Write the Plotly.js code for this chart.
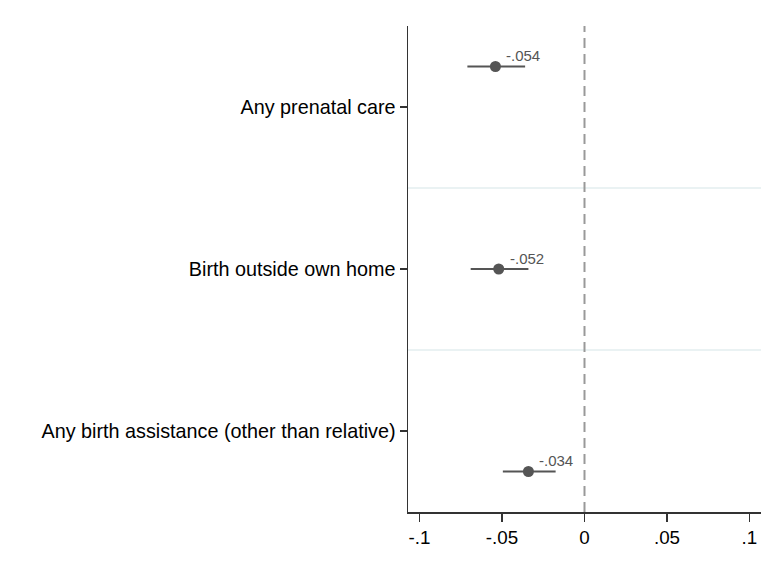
<!DOCTYPE html>
<html>
<head>
<meta charset="utf-8">
<script src="https://cdn.plot.ly/plotly-3.0.1.min.js"></script>
<style>
  html, body { margin: 0; padding: 0; background: #ffffff; }
  #chart { width: 775px; height: 568px; }
</style>
</head>
<body>
<div id="chart"></div>
<script>
// Outcomes, top to bottom
const outcomes = [
  "Any prenatal care",
  "Birth outside own home",
  "Any birth assistance (other than relative)"
];

// Point estimates and 95% confidence bounds
const estimates = [-0.054, -0.052, -0.034];
const ciLower   = [-0.071, -0.069, -0.0495];
const ciUpper   = [-0.036, -0.034, -0.0175];

// Vertical offset of each model's marker within its row
const rowOffsets = [-0.25, 0, 0.25];

const xTickVals = [-0.1, -0.05, 0, 0.05, 0.1];
const xTickText = ["-.1", "-.05", "0", ".05", ".1"];

const rowPos = outcomes.map((_, i) => i + 1);
const yPos = rowPos.map((p, i) => p + rowOffsets[i]);

const fmt = v => (v < 0 ? "-" : "") + Math.abs(v).toFixed(3).replace(/^0/, "");

const ink = "#555555";

const trace = {
  type: "scatter",
  mode: "markers",
  x: estimates,
  y: yPos,
  marker: { color: ink, size: 11, line: { width: 0 } },
  error_x: {
    type: "data",
    symmetric: false,
    array: estimates.map((e, i) => ciUpper[i] - e),
    arrayminus: estimates.map((e, i) => e - ciLower[i]),
    color: ink,
    thickness: 2,
    width: 0
  },
  hoverinfo: "skip",
  showlegend: false
};

// Separator lines between rows and the zero reference line
const shapes = rowPos.slice(0, -1).map(p => ({
  type: "line", xref: "paper", yref: "y",
  x0: 0, x1: 1, y0: p + 0.5, y1: p + 0.5,
  line: { color: "#eaf2f3", width: 2 },
  layer: "below"
}));
shapes.push({
  type: "line", xref: "x", yref: "paper",
  x0: 0, x1: 0, y0: 0, y1: 1,
  line: { color: "#999999", width: 2, dash: "10px,6px" },
  layer: "below"
});

const annotations = estimates.map((e, i) => ({
  x: e, y: yPos[i], xref: "x", yref: "y",
  text: fmt(e),
  showarrow: false,
  xanchor: "left", yanchor: "middle",
  xshift: 9, yshift: 11,
  font: { family: "Liberation Sans, Arial, sans-serif", size: 15, color: ink }
}));

const layout = {
  width: 775,
  height: 568,
  margin: { l: 408, r: 14, t: 26, b: 56, pad: 0 },
  paper_bgcolor: "#ffffff",
  plot_bgcolor: "#ffffff",
  font: { family: "Liberation Sans, Arial, sans-serif", color: "#000000" },
  xaxis: {
    range: [-0.107, 0.107],
    tickvals: xTickVals,
    ticktext: xTickText,
    ticks: "outside",
    ticklen: 8,
    tickwidth: 1.5,
    tickcolor: "#333333",
    showline: true,
    linecolor: "#333333",
    linewidth: 1.5,
    showgrid: false,
    zeroline: false,
    tickfont: { size: 18.8, color: "#000000" }
  },
  yaxis: {
    range: [rowPos.length + 0.5, 0.5],
    tickvals: rowPos,
    ticktext: outcomes,
    ticks: "outside",
    ticklen: 7,
    tickwidth: 1.5,
    tickcolor: "#333333",
    showline: true,
    linecolor: "#333333",
    linewidth: 1.5,
    showgrid: false,
    zeroline: false,
    tickfont: { size: 19.8, color: "#000000" }
  },
  shapes: shapes,
  annotations: annotations,
  showlegend: false
};

Plotly.newPlot("chart", [trace], layout, { displayModeBar: false, staticPlot: true });
</script>
</body>
</html>
